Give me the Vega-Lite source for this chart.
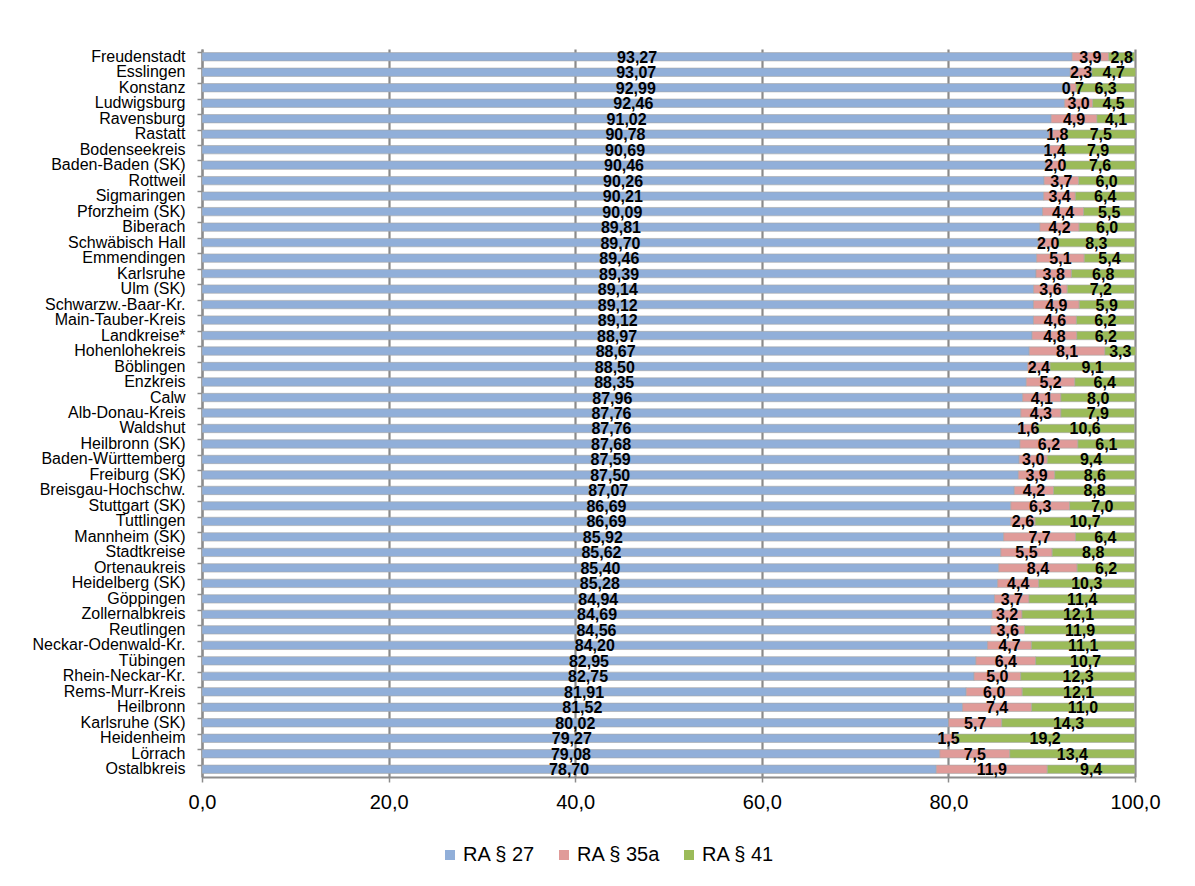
{
  "$schema": "https://vega.github.io/schema/vega-lite/v6.json",
  "autosize": "none",
  "width": 933,
  "height": 728,
  "padding": {"left": 202, "top": 49, "right": 60, "bottom": 109},
  "background": "white",
  "config": {
    "font": "Arial",
    "view": {"stroke": null},
    "axis": {"labelFont": "Liberation Sans", "labelColor": "#000000"}
  },
  "data": {
    "values": [
      {"name": "Freudenstadt", "RA § 27": 93.27, "RA § 35a": 3.9, "RA § 41": 2.8},
      {"name": "Esslingen", "RA § 27": 93.07, "RA § 35a": 2.3, "RA § 41": 4.7},
      {"name": "Konstanz", "RA § 27": 92.99, "RA § 35a": 0.7, "RA § 41": 6.3},
      {"name": "Ludwigsburg", "RA § 27": 92.46, "RA § 35a": 3.0, "RA § 41": 4.5},
      {"name": "Ravensburg", "RA § 27": 91.02, "RA § 35a": 4.9, "RA § 41": 4.1},
      {"name": "Rastatt", "RA § 27": 90.78, "RA § 35a": 1.8, "RA § 41": 7.5},
      {"name": "Bodenseekreis", "RA § 27": 90.69, "RA § 35a": 1.4, "RA § 41": 7.9},
      {"name": "Baden-Baden (SK)", "RA § 27": 90.46, "RA § 35a": 2.0, "RA § 41": 7.6},
      {"name": "Rottweil", "RA § 27": 90.26, "RA § 35a": 3.7, "RA § 41": 6.0},
      {"name": "Sigmaringen", "RA § 27": 90.21, "RA § 35a": 3.4, "RA § 41": 6.4},
      {"name": "Pforzheim (SK)", "RA § 27": 90.09, "RA § 35a": 4.4, "RA § 41": 5.5},
      {"name": "Biberach", "RA § 27": 89.81, "RA § 35a": 4.2, "RA § 41": 6.0},
      {"name": "Schwäbisch Hall", "RA § 27": 89.70, "RA § 35a": 2.0, "RA § 41": 8.3},
      {"name": "Emmendingen", "RA § 27": 89.46, "RA § 35a": 5.1, "RA § 41": 5.4},
      {"name": "Karlsruhe", "RA § 27": 89.39, "RA § 35a": 3.8, "RA § 41": 6.8},
      {"name": "Ulm (SK)", "RA § 27": 89.14, "RA § 35a": 3.6, "RA § 41": 7.2},
      {"name": "Schwarzw.-Baar-Kr.", "RA § 27": 89.12, "RA § 35a": 4.9, "RA § 41": 5.9},
      {"name": "Main-Tauber-Kreis", "RA § 27": 89.12, "RA § 35a": 4.6, "RA § 41": 6.2},
      {"name": "Landkreise*", "RA § 27": 88.97, "RA § 35a": 4.8, "RA § 41": 6.2},
      {"name": "Hohenlohekreis", "RA § 27": 88.67, "RA § 35a": 8.1, "RA § 41": 3.3},
      {"name": "Böblingen", "RA § 27": 88.50, "RA § 35a": 2.4, "RA § 41": 9.1},
      {"name": "Enzkreis", "RA § 27": 88.35, "RA § 35a": 5.2, "RA § 41": 6.4},
      {"name": "Calw", "RA § 27": 87.96, "RA § 35a": 4.1, "RA § 41": 8.0},
      {"name": "Alb-Donau-Kreis", "RA § 27": 87.76, "RA § 35a": 4.3, "RA § 41": 7.9},
      {"name": "Waldshut", "RA § 27": 87.76, "RA § 35a": 1.6, "RA § 41": 10.6},
      {"name": "Heilbronn (SK)", "RA § 27": 87.68, "RA § 35a": 6.2, "RA § 41": 6.1},
      {"name": "Baden-Württemberg", "RA § 27": 87.59, "RA § 35a": 3.0, "RA § 41": 9.4},
      {"name": "Freiburg (SK)", "RA § 27": 87.50, "RA § 35a": 3.9, "RA § 41": 8.6},
      {"name": "Breisgau-Hochschw.", "RA § 27": 87.07, "RA § 35a": 4.2, "RA § 41": 8.8},
      {"name": "Stuttgart (SK)", "RA § 27": 86.69, "RA § 35a": 6.3, "RA § 41": 7.0},
      {"name": "Tuttlingen", "RA § 27": 86.69, "RA § 35a": 2.6, "RA § 41": 10.7},
      {"name": "Mannheim (SK)", "RA § 27": 85.92, "RA § 35a": 7.7, "RA § 41": 6.4},
      {"name": "Stadtkreise", "RA § 27": 85.62, "RA § 35a": 5.5, "RA § 41": 8.8},
      {"name": "Ortenaukreis", "RA § 27": 85.40, "RA § 35a": 8.4, "RA § 41": 6.2},
      {"name": "Heidelberg (SK)", "RA § 27": 85.28, "RA § 35a": 4.4, "RA § 41": 10.3},
      {"name": "Göppingen", "RA § 27": 84.94, "RA § 35a": 3.7, "RA § 41": 11.4},
      {"name": "Zollernalbkreis", "RA § 27": 84.69, "RA § 35a": 3.2, "RA § 41": 12.1},
      {"name": "Reutlingen", "RA § 27": 84.56, "RA § 35a": 3.6, "RA § 41": 11.9},
      {"name": "Neckar-Odenwald-Kr.", "RA § 27": 84.20, "RA § 35a": 4.7, "RA § 41": 11.1},
      {"name": "Tübingen", "RA § 27": 82.95, "RA § 35a": 6.4, "RA § 41": 10.7},
      {"name": "Rhein-Neckar-Kr.", "RA § 27": 82.75, "RA § 35a": 5.0, "RA § 41": 12.3},
      {"name": "Rems-Murr-Kreis", "RA § 27": 81.91, "RA § 35a": 6.0, "RA § 41": 12.1},
      {"name": "Heilbronn", "RA § 27": 81.52, "RA § 35a": 7.4, "RA § 41": 11.0},
      {"name": "Karlsruhe (SK)", "RA § 27": 80.02, "RA § 35a": 5.7, "RA § 41": 14.3},
      {"name": "Heidenheim", "RA § 27": 79.27, "RA § 35a": 1.5, "RA § 41": 19.2},
      {"name": "Lörrach", "RA § 27": 79.08, "RA § 35a": 7.5, "RA § 41": 13.4},
      {"name": "Ostalbkreis", "RA § 27": 78.70, "RA § 35a": 11.9, "RA § 41": 9.4}
    ]
  },
  "transform": [
    {"fold": ["RA § 27", "RA § 35a", "RA § 41"], "as": ["key", "value"]},
    {"stack": "value", "groupby": ["name"], "sort": [{"field": "key", "order": "ascending"}], "as": ["x0", "x1"]},
    {"calculate": "(datum.x0 + datum.x1) / 2", "as": "mid"},
    {"calculate": "replace(format(datum.value, datum.key === 'RA § 27' ? '.2f' : '.1f'), '.', ',')", "as": "lbl"}
  ],
  "encoding": {
    "y": {
      "field": "name",
      "type": "nominal",
      "sort": null,
      "title": null,
      "scale": {"paddingInner": 0.46, "paddingOuter": 0.23},
      "axis": {
        "labelFontSize": 16,
        "labelPadding": 12,
        "tickSize": 5,
        "tickColor": "#8c8c8c",
        "tickWidth": 1.5,
        "domainColor": "#8c8c8c",
        "domainWidth": 2,
        "bandPosition": 0,
        "labelLimit": 300
      }
    }
  },
  "layer": [
    {
      "mark": {"type": "bar", "stroke": "#a6a6a6", "strokeWidth": 0.6},
      "encoding": {
        "x": {
          "field": "x0",
          "type": "quantitative",
          "scale": {"domain": [0, 100], "nice": false},
          "title": null,
          "axis": {
            "values": [0, 20, 40, 60, 80, 100],
            "labelExpr": "replace(format(datum.value, '.1f'), '.', ',')",
            "labelFontSize": 20,
            "labelPadding": 10,
            "labelFlush": false,
            "labelOverlap": false,
            "tickSize": 5,
            "tickColor": "#8c8c8c",
            "tickWidth": 1.5,
            "domainColor": "#8c8c8c",
            "domainWidth": 2,
            "grid": true,
            "gridColor": "#8a8a8a",
            "gridWidth": 2.2
          }
        },
        "x2": {"field": "x1"},
        "color": {
          "field": "key",
          "type": "nominal",
          "scale": {
            "domain": ["RA § 27", "RA § 35a", "RA § 41"],
            "range": ["#91afd9", "#e09b99", "#9bbb59"]
          },
          "legend": {
            "title": null,
            "orient": "none",
            "direction": "horizontal",
            "legendX": 238,
            "legendY": 796,
            "symbolType": "square",
            "symbolSize": 100,
            "symbolStrokeWidth": 0,
            "labelFontSize": 20,
            "labelFont": "Liberation Sans",
            "labelColor": "#000000",
            "labelOffset": 3,
            "columnPadding": 18
          }
        }
      }
    },
    {
      "mark": {"type": "text", "font": "Liberation Sans", "fontWeight": "bold", "fontSize": 16, "color": "#000000", "baseline": "middle", "dy": 1},
      "encoding": {
        "x": {"field": "mid", "type": "quantitative"},
        "text": {"field": "lbl"}
      }
    }
  ]
}
